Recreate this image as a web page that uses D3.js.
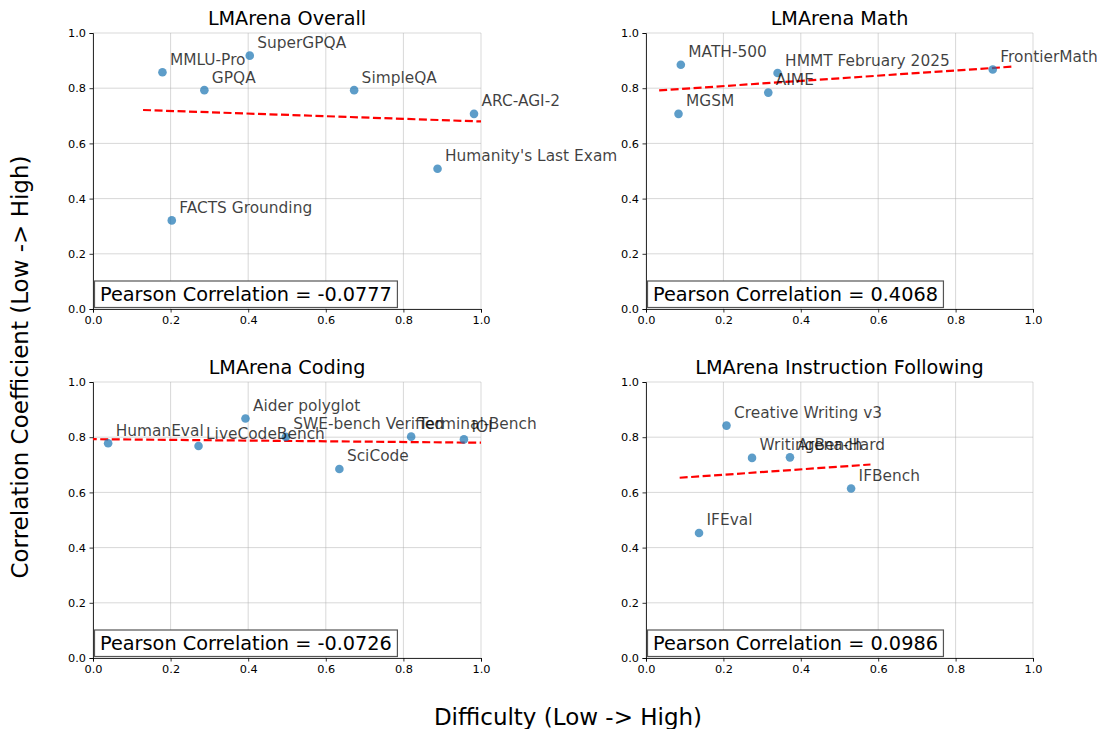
<!DOCTYPE html>
<html><head><meta charset="utf-8">
<script src="https://cdn.jsdelivr.net/npm/d3@7"></script>
<style>body{margin:0;background:#fff}svg{display:block;font-family:"DejaVu Sans",sans-serif}</style>
</head><body><svg id="c" width="1097" height="729"></svg>
<script>
const panelTitles = ["LMArena Overall","LMArena Math","LMArena Coding","LMArena Instruction Following"];
const tickValues = [0,0.2,0.4,0.6,0.8,1.0];
const tickLabels = ["0.0","0.2","0.4","0.6","0.8","1.0"];

const overallNames = ["MMLU-Pro","SuperGPQA","GPQA","SimpleQA","ARC-AGI-2","Humanity's Last Exam","FACTS Grounding"];
const overallDifficulty = [0.179,0.404,0.287,0.673,0.982,0.888,0.203];
const overallCorr = [0.858,0.918,0.793,0.793,0.707,0.508,0.321];

const mathNames = ["MATH-500","HMMT February 2025","AIME","MGSM","FrontierMath"];
const mathDifficulty = [0.090,0.340,0.316,0.084,0.896];
const mathCorr = [0.885,0.855,0.784,0.707,0.868];

const codingNames = ["HumanEval","LiveCodeBench","Aider polyglot","SWE-bench Verified","SciCode","Terminal-Bench","IOI"];
const codingDifficulty = [0.039,0.272,0.393,0.497,0.635,0.820,0.956];
const codingCorr = [0.778,0.768,0.868,0.801,0.685,0.802,0.792];

const ifNames = ["Creative Writing v3","WritingBench","Arena-Hard","IFBench","IFEval"];
const ifDifficulty = [0.208,0.274,0.372,0.530,0.137];
const ifCorr = [0.842,0.725,0.727,0.614,0.453];

// trend line endpoints [x0, y0, x1, y1]
const trendOverall = [0.129,0.721,1.032,0.678];
const trendMath = [0.034,0.792,0.946,0.878];
const trendCoding = [-0.011,0.793,1.006,0.780];
const trendIF = [0.087,0.653,0.580,0.701];

const pearsonValues = ["-0.0777","0.4068","-0.0726","0.0986"];

const panels = [
  {names:overallNames, xs:overallDifficulty, ys:overallCorr, trend:trendOverall},
  {names:mathNames, xs:mathDifficulty, ys:mathCorr, trend:trendMath},
  {names:codingNames, xs:codingDifficulty, ys:codingCorr, trend:trendCoding},
  {names:ifNames, xs:ifDifficulty, ys:ifCorr, trend:trendIF}
];
const frames = [
  {x0:93, x1:481, y0:33, y1:309},
  {x0:646, x1:1033, y0:33, y1:309},
  {x0:93, x1:481, y0:382, y1:658},
  {x0:646, x1:1033, y0:382, y1:658}
];

const svg = d3.select("#c");
const defs = svg.append("defs");

panels.forEach((p,i)=>{
  const f = frames[i];
  const x = d3.scaleLinear().domain([0,1]).range([f.x0,f.x1]);
  const y = d3.scaleLinear().domain([0,1]).range([f.y1,f.y0]);
  const g = svg.append("g");
  defs.append("clipPath").attr("id","clip"+i).append("rect")
    .attr("x",f.x0).attr("y",f.y0).attr("width",f.x1-f.x0).attr("height",f.y1-f.y0);

  // grid
  g.append("g").selectAll("line.gx").data(tickValues).join("line")
    .attr("x1",d=>x(d)).attr("x2",d=>x(d)).attr("y1",f.y0).attr("y2",f.y1)
    .attr("stroke","#b0b0b0").attr("stroke-opacity",0.55).attr("stroke-width",0.9);
  g.append("g").selectAll("line.gy").data(tickValues).join("line")
    .attr("y1",d=>y(d)).attr("y2",d=>y(d)).attr("x1",f.x0).attr("x2",f.x1)
    .attr("stroke","#b0b0b0").attr("stroke-opacity",0.55).attr("stroke-width",0.9);

  // axes
  const xa = g.append("g").attr("transform",`translate(0,${f.y1})`)
    .call(d3.axisBottom(x).tickValues(tickValues).tickFormat((d,k)=>tickLabels[k]).tickSizeOuter(0).tickSize(3.5).tickPadding(3.5));
  const ya = g.append("g").attr("transform",`translate(${f.x0},0)`)
    .call(d3.axisLeft(y).tickValues(tickValues).tickFormat((d,k)=>tickLabels[k]).tickSizeOuter(0).tickSize(3.5).tickPadding(3.5));
  [xa,ya].forEach(a=>{
    a.selectAll("text").attr("font-family","DejaVu Sans").attr("font-size","11.3px").attr("fill","#000");
    a.select(".domain").attr("stroke","#000").attr("stroke-width",0.8);
    a.selectAll(".tick line").attr("stroke","#000").attr("stroke-width",0.8);
  });

  // trend line
  const t = p.trend;
  g.append("line").attr("clip-path",`url(#clip${i})`)
    .attr("x1",x(t[0])).attr("y1",y(t[1])).attr("x2",x(t[2])).attr("y2",y(t[3]))
    .attr("stroke","#ff0000").attr("stroke-width",2.2).attr("stroke-dasharray","8,3.5");

  // points
  const idx = d3.range(p.names.length);
  g.append("g").selectAll("circle").data(idx).join("circle")
    .attr("cx",k=>x(p.xs[k])).attr("cy",k=>y(p.ys[k])).attr("r",4.3)
    .attr("fill","#1f77b4").attr("fill-opacity",0.72);

  // labels
  g.append("g").selectAll("text").data(idx).join("text")
    .attr("x",k=>x(p.xs[k])+7.5).attr("y",k=>y(p.ys[k])-7.5)
    .attr("font-size","15.4px").attr("fill","#000").attr("fill-opacity",0.75)
    .text(k=>p.names[k]);

  // title
  svg.append("text").attr("x",(f.x0+f.x1)/2).attr("y",f.y0-8).attr("text-anchor","middle")
    .attr("font-size","19.2px").attr("fill","#000").text(panelTitles[i]);

  // pearson box
  const pt = svg.append("text").attr("x",f.x0+7).attr("y",f.y1-8)
    .attr("font-size","19.3px").attr("fill","#000").text("Pearson Correlation = "+pearsonValues[i]);
  const bb = pt.node().getBBox();
  svg.insert("rect", function(){return pt.node();})
    .attr("x",f.x0+1.5).attr("y",f.y1-28).attr("width",bb.width+11).attr("height",26.5)
    .attr("fill","#fff").attr("stroke","#555").attr("stroke-width",1.2);
});

svg.append("text").attr("x",568).attr("y",725).attr("text-anchor","middle")
  .attr("font-size","23px").attr("fill","#000").text("Difficulty (Low -> High)");
svg.append("text").attr("transform","translate(28,367) rotate(-90)").attr("text-anchor","middle")
  .attr("font-size","23px").attr("fill","#000").text("Correlation Coefficient (Low -> High)");
</script></body></html>
